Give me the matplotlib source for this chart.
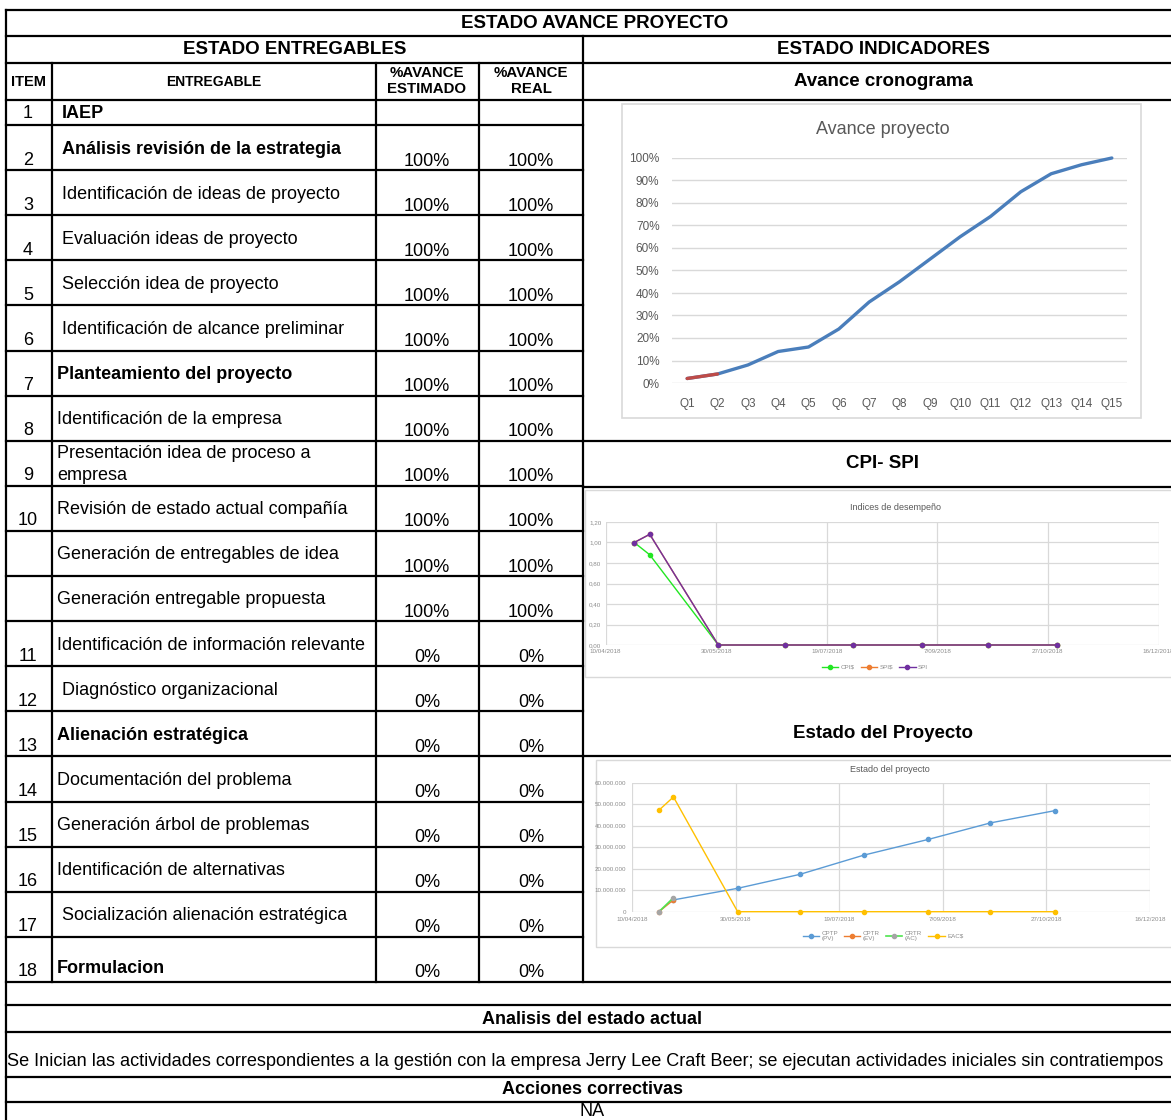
import datetime as dt

import numpy as np
import matplotlib
matplotlib.use("Agg")
import matplotlib.pyplot as plt
import matplotlib.dates as mdates
from matplotlib.patches import Rectangle
from matplotlib.ticker import FuncFormatter, MultipleLocator

plt.rcParams['font.family'] = ['Liberation Sans', 'DejaVu Sans']

W, H = 1171, 1120

# ---------------- table data ----------------
item_nums = ["1", "2", "3", "4", "5", "6", "7", "8", "9", "10", "", "",
             "11", "12", "13", "14", "15", "16", "17", "18"]
entregables = [
    "IAEP",
    "Análisis revisión de la estrategia",
    "Identificación de ideas de proyecto",
    "Evaluación ideas de proyecto",
    "Selección idea de proyecto",
    "Identificación de alcance preliminar",
    "Planteamiento del proyecto",
    "Identificación de la empresa",
    "Presentación idea de proceso a\nempresa",
    "Revisión de estado actual compañía",
    "Generación de entregables de idea",
    "Generación entregable propuesta",
    "Identificación de información relevante",
    "Diagnóstico organizacional",
    "Alienación estratégica",
    "Documentación del problema",
    "Generación árbol de problemas",
    "Identificación de alternativas",
    "Socialización alienación estratégica",
    "Formulacion",
]
bold_rows = {"IAEP", "Análisis revisión de la estrategia", "Planteamiento del proyecto",
             "Alienación estratégica", "Formulacion"}
avance_estimado = [""] + ["100%"] * 11 + ["0%"] * 8
avance_real = [""] + ["100%"] * 11 + ["0%"] * 8

analisis_texto = ("Se Inician las actividades correspondientes a la gestión con la empresa "
                  "Jerry Lee Craft Beer; se ejecutan actividades iniciales sin contratiempos")
acciones_texto = "NA"

# ---------------- chart data ----------------
quarters = ["Q1", "Q2", "Q3", "Q4", "Q5", "Q6", "Q7", "Q8", "Q9", "Q10",
            "Q11", "Q12", "Q13", "Q14", "Q15"]
avance_plan = [0.02, 0.04, 0.08, 0.14, 0.16, 0.24, 0.36, 0.45, 0.55, 0.65,
               0.74, 0.85, 0.93, 0.97, 1.00]
avance_ejec = [0.02, 0.04]

fechas = ["2018-04-23", "2018-04-30", "2018-05-31", "2018-06-30",
          "2018-07-31", "2018-08-31", "2018-09-30", "2018-10-31"]
cpi_pesos = [1.00, 0.88, 0, 0, 0, 0, 0, 0]
spi_pesos = [1.00, 1.08, 0, 0, 0, 0, 0, 0]
spi = [1.00, 1.08, 0, 0, 0, 0, 0, 0]

cptp_pv = [np.nan, 5.5e6, 10.9e6, 17.4e6, 26.4e6, 33.7e6, 41.4e6, 47.1e6]
cptr_ev = [0, 5.5e6, np.nan, np.nan, np.nan, np.nan, np.nan, np.nan]
crtr_ac = [0, 6.5e6, np.nan, np.nan, np.nan, np.nan, np.nan, np.nan]
eac_pesos = [47.3e6, 53.5e6, 0, 0, 0, 0, 0, 0]

fecha_ini = dt.datetime(2018, 4, 10)
fecha_fin = dt.datetime(2018, 12, 16)


def px_rect(x0, y0, x1, y1):
    return [x0 / W, 1 - y1 / H, (x1 - x0) / W, (y1 - y0) / H]


fig = plt.figure(figsize=(W / 100, H / 100), dpi=100)
fig.patch.set_facecolor("white")
ax = fig.add_axes([0, 0, 1, 1])
ax.set_xlim(0, W)
ax.set_ylim(H, 0)
ax.axis("off")

LW = 1.6
FS = 13        # cell text
FS_HEAD = 13.5  # section headers


def hline(y, x0, x1):
    ax.plot([x0, x1], [y, y], color="black", lw=LW, solid_capstyle="projecting")


def vline(x, y0, y1):
    ax.plot([x, x], [y0, y1], color="black", lw=LW, solid_capstyle="projecting")


XL, XR = 6, 1184
col_x = [6, 52, 376, 479, 583]
row_edges = [100] + list(125 + 45.1 * np.arange(20))

# outer / header lines
for y in (10, 36, 63, 100):
    hline(y, XL, XR)
for y in row_edges[1:-1]:
    hline(y, XL, col_x[4])
for y in (441, 487, 756):
    hline(y, col_x[4], XR)
for y in (982, 1005, 1032, 1077, 1102):
    hline(y, XL, XR)
vline(XL, 10, 1125)
vline(XR, 10, 1125)
for x in col_x[1:4]:
    vline(x, 63, 982)
vline(col_x[4], 36, 982)

# header texts
ax.text(595, 24, "ESTADO AVANCE PROYECTO", ha="center", va="center", fontsize=FS_HEAD, weight="bold")
ax.text(295, 49, "ESTADO ENTREGABLES", ha="center", va="center", fontsize=FS_HEAD, weight="bold")
ax.text(883, 49, "ESTADO INDICADORES", ha="center", va="center", fontsize=FS_HEAD, weight="bold")
ax.text(28, 82, "ITEM", ha="center", va="center", fontsize=10.5, weight="bold")
ax.text(214, 82, "ENTREGABLE", ha="center", va="center", fontsize=10, weight="bold")
ax.text(427, 81, "%AVANCE\nESTIMADO", ha="center", va="center", fontsize=10.8, weight="bold",
        linespacing=1.1)
ax.text(531, 81, "%AVANCE\nREAL", ha="center", va="center", fontsize=10.8, weight="bold",
        linespacing=1.1)
ax.text(883, 81, "Avance cronograma", ha="center", va="center", fontsize=FS_HEAD, weight="bold")
ax.text(883, 464, "CPI- SPI", ha="center", va="center", fontsize=FS_HEAD, weight="bold")
ax.text(883, 733, "Estado del Proyecto", ha="center", va="center", fontsize=FS_HEAD, weight="bold")

indents = [62, 62, 62, 62, 62, 62, 57, 57, 57, 57, 57, 57, 57, 62, 57, 57, 57, 57, 62, 57]
for i, (num, name, est, real) in enumerate(zip(item_nums, entregables, avance_estimado, avance_real)):
    top, bot = row_edges[i], row_edges[i + 1]
    if i == 0:
        y_num = y_name = y_pct = 113
    else:
        y_num = bot - 10
        y_pct = bot - 9
        y_name = bot - 13 if i == len(entregables) - 1 else top + 24
    ax.text(28, y_num, num, ha="center", va="center", fontsize=FS)
    ax.text(indents[i], y_name, name, ha="left", va="center", fontsize=FS,
            weight="bold" if name in bold_rows else "normal", linespacing=1.4)
    ax.text(427, y_pct, est, ha="center", va="center", fontsize=FS)
    ax.text(531, y_pct, real, ha="center", va="center", fontsize=FS)

ax.text(592, 1019, "Analisis del estado actual", ha="center", va="center", fontsize=FS, weight="bold")
ax.text(7, 1062, analisis_texto, ha="left", va="center", fontsize=13.1)
ax.text(592, 1090, "Acciones correctivas", ha="center", va="center", fontsize=FS, weight="bold")
ax.text(592, 1112, acciones_texto, ha="center", va="center", fontsize=FS)

GRID = "#d9d9d9"
TXT = "#595959"

# ---------------- chart 1: Avance proyecto ----------------
ax.add_patch(Rectangle((622, 104), 519, 314, facecolor="white", edgecolor=GRID, lw=1.2))
ax.text(883, 129, "Avance proyecto", ha="center", va="center", fontsize=13, color=TXT)
a1 = fig.add_axes(px_rect(672, 158, 1127, 383))
a1.set_facecolor("none")
xq = np.arange(len(quarters))
a1.plot(xq, avance_plan, color="#4a7ebb", lw=2.4, solid_capstyle="round", clip_on=False)
a1.plot(xq[:len(avance_ejec)], avance_ejec, color="#be4b48", lw=2.4, solid_capstyle="round",
        clip_on=False)
a1.set_xlim(-0.5, len(quarters) - 0.5)
a1.set_ylim(0, 1)
a1.set_xticks(xq)
a1.set_xticklabels(quarters)
a1.yaxis.set_major_locator(MultipleLocator(0.1))
a1.yaxis.set_major_formatter(FuncFormatter(lambda v, p: f"{int(round(v * 100))}%"))
a1.grid(axis="y", color=GRID, lw=1.0)
a1.set_axisbelow(True)
for s in a1.spines.values():
    s.set_visible(False)
a1.tick_params(length=0, labelsize=8.5, colors=TXT)
a1.tick_params(axis="x", pad=11)
a1.tick_params(axis="y", pad=9)


# ---------------- date charts ----------------
def fmt_fecha(v, p=None):
    d = mdates.num2date(v)
    return f"{d.day}/{d.month:02d}/{d.year}"


x_fechas = mdates.date2num([dt.datetime.strptime(f, "%Y-%m-%d") for f in fechas])
x_ticks = mdates.date2num([fecha_ini + dt.timedelta(days=50 * k) for k in range(6)])


def style_dates(a, ymax, ystep, yfmt, pad):
    a.set_xlim(mdates.date2num(fecha_ini), mdates.date2num(fecha_fin))
    a.set_xticks(x_ticks)
    a.xaxis.set_major_formatter(FuncFormatter(fmt_fecha))
    a.set_ylim(0, ymax)
    a.yaxis.set_major_locator(MultipleLocator(ystep))
    a.yaxis.set_major_formatter(FuncFormatter(yfmt))
    a.grid(True, color=GRID, lw=0.9)
    a.set_axisbelow(True)
    for s in a.spines.values():
        s.set_visible(False)
    a.tick_params(length=0, labelsize=4.5, colors="#8c8c8c", pad=pad)


# chart 2: Indices de desempeño
ax.add_patch(Rectangle((585, 490), 600, 187, facecolor="white", edgecolor=GRID, lw=1.0))
ax.text(895, 507, "Indices de desempeño", ha="center", va="center", fontsize=6.5, color=TXT)
a2 = fig.add_axes(px_rect(605.5, 522, 1158.5, 645))
a2.set_facecolor("none")
a2.plot(x_fechas, cpi_pesos, color="#22e622", lw=1.0, marker="o", ms=3, label="CPI$", clip_on=False)
a2.plot(x_fechas, spi_pesos, color="#ed7d31", lw=1.0, marker="o", ms=3, label="SPI$", clip_on=False)
a2.plot(x_fechas, spi, color="#7030a0", lw=1.0, marker="o", ms=3, label="SPI", clip_on=False)
style_dates(a2, 1.2, 0.2, lambda v, p: f"{v:.2f}".replace(".", ","), 3)
a2.legend(loc="center", bbox_to_anchor=(875 / W, 1 - 667 / H), bbox_transform=fig.transFigure,
          ncol=3, frameon=False, fontsize=4.5, handlelength=2.6, columnspacing=1.0,
          handletextpad=0.4, labelcolor="#8c8c8c")

# chart 3: Estado del proyecto
ax.add_patch(Rectangle((596, 760), 590, 187, facecolor="white", edgecolor=GRID, lw=1.0))
ax.text(890, 769, "Estado del proyecto", ha="center", va="center", fontsize=6.5, color=TXT)
a3 = fig.add_axes(px_rect(632, 783, 1150, 911.7))
a3.set_facecolor("none")
a3.plot(x_fechas, cptp_pv, color="#5b9bd5", lw=1.0, marker="o", ms=3, label="CPTP\n(PV)", clip_on=False)
a3.plot(x_fechas, cptr_ev, color="#ed7d31", lw=1.0, marker="o", ms=3, label="CPTR\n(EV)", clip_on=False)
a3.plot(x_fechas, crtr_ac, color="#4ee44e", lw=1.2, marker="o", ms=3, mfc="#a5a5a5", mec="#a5a5a5",
        label="CRTR\n(AC)", clip_on=False)
a3.plot(x_fechas, eac_pesos, color="#ffc000", lw=1.0, marker="o", ms=3, label="EAC$", clip_on=False)
style_dates(a3, 60e6, 10e6, lambda v, p: f"{int(v):,}".replace(",", "."), 4)
a3.legend(loc="center", bbox_to_anchor=(883 / W, 1 - 936 / H), bbox_transform=fig.transFigure,
          ncol=4, frameon=False, fontsize=4.5, handlelength=2.6, columnspacing=1.0,
          handletextpad=0.4, labelcolor="#8c8c8c")

fig.savefig("out.png", dpi=100, facecolor="white")
